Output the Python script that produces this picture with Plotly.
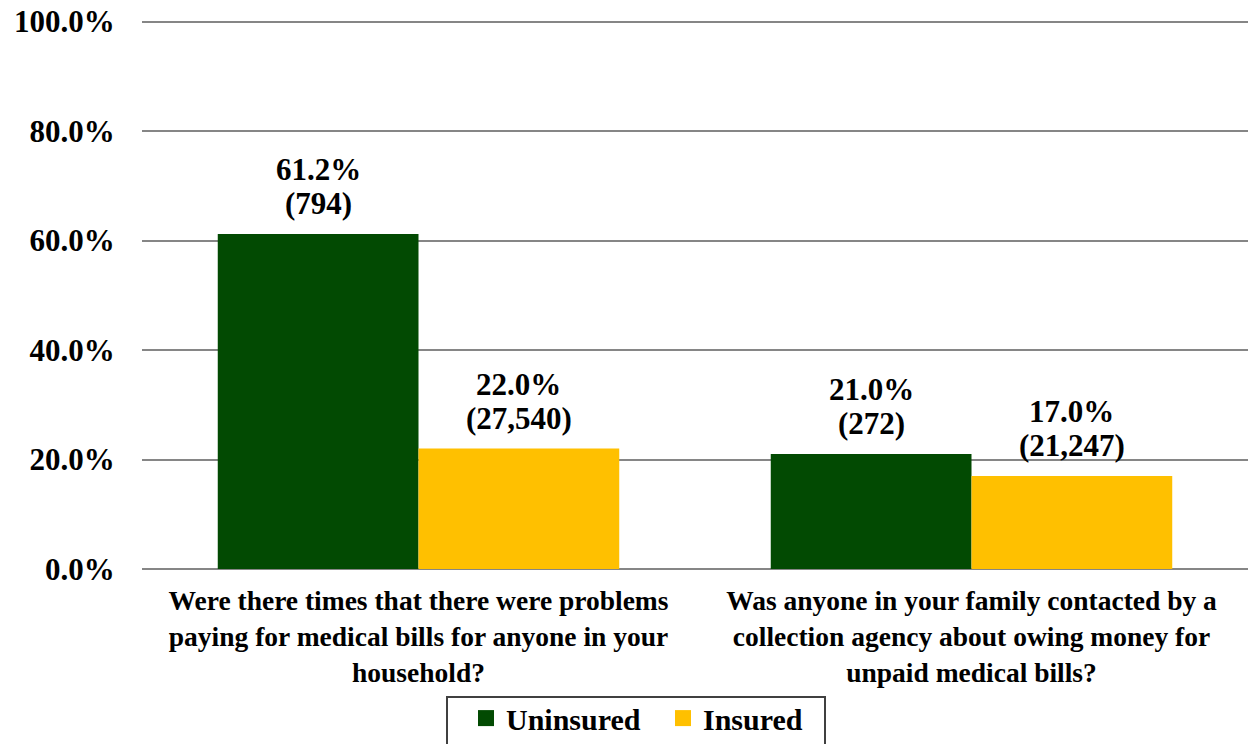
import plotly.graph_objects as go

categories = [
    "Were there times that there were problems<br>paying for medical bills for anyone in your<br>household?",
    "Was anyone in your family contacted by a<br>collection agency about owing money for<br>unpaid medical bills?",
]
series_names = ["Uninsured", "Insured"]
uninsured_pct = [0.612, 0.210]
uninsured_n = ["794", "272"]
insured_pct = [0.220, 0.170]
insured_n = ["27,540", "21,247"]
y_ticks = [0, 0.2, 0.4, 0.6, 0.8, 1.0]

FONT = "Liberation Serif"
GREEN = "#024A02"
GOLD = "#FFC000"
GRID = "#868686"

# figure geometry (page body margin is removed, so page pixels == figure pixels)
W, H = 1248, 744
ML, MR, MB = 142, 0, 175
Y_ZERO = H - MB          # pixel row of 0 %
PX_PER_UNIT = 547        # pixels from 0 % to 100 %
Y_TOP = 1.012            # a little headroom so the 100 % gridline is drawn
MT = Y_ZERO - PX_PER_UNIT * Y_TOP
BARGAP = 0.274
plot_w = W - ML - MR
plot_h = H - MT - MB
cat_w = plot_w / len(categories)
bar_w = cat_w * (1 - BARGAP) / 2

fig = go.Figure()
series = [
    (series_names[0], uninsured_pct, uninsured_n, GREEN, -1),
    (series_names[1], insured_pct, insured_n, GOLD, 1),
]
for name, vals, ns, color, side in series:
    fig.add_trace(go.Bar(
        name=name, x=categories, y=vals,
        marker=dict(color=color, line=dict(width=0)),
        showlegend=False, hoverinfo="x+y",
    ))
    # legend swatch
    fig.add_trace(go.Scatter(
        name=name, x=[None], y=[None], mode="markers",
        marker=dict(symbol="square", size=16, color=color),
        showlegend=True,
    ))
    for c, v, n in zip(categories, vals, ns):
        common = dict(
            x=c, y=v, xref="x", yref="y", showarrow=False,
            xshift=side * bar_w / 2, yanchor="bottom", xanchor="center",
            font=dict(family=FONT, size=31, color="black", weight="bold"),
        )
        fig.add_annotation(text=f"{v*100:.1f}%", yshift=45, **common)
        fig.add_annotation(text=f"({n})", yshift=11, **common)

# legend frame (bottom edge runs off the page as in the reference)
fig.add_shape(
    type="rect", xref="paper", yref="paper",
    x0=(447 - ML) / plot_w, x1=(825 - ML) / plot_w,
    y0=(Y_ZERO - 697) / plot_h, y1=(Y_ZERO - 780) / plot_h,
    line=dict(color="#404040", width=2), fillcolor="rgba(0,0,0,0)",
    layer="above",
)

fig.update_layout(
    width=W, height=H,
    margin=dict(l=ML, r=MR, t=MT, b=MB, autoexpand=False),
    paper_bgcolor="white", plot_bgcolor="white",
    barmode="group", bargap=BARGAP, bargroupgap=0,
    font=dict(family=FONT, color="black", weight="bold"),
    showlegend=True,
    legend=dict(
        orientation="h",
        x=(466 - ML) / plot_w, y=(Y_ZERO - 692) / plot_h,
        xanchor="left", yanchor="top",
        font=dict(family=FONT, size=30, color="black", weight="bold"),
        borderwidth=0, bgcolor="rgba(0,0,0,0)",
        itemsizing="trace", entrywidth=152, entrywidthmode="pixels",
    ),
    xaxis=dict(
        showgrid=False, showline=False, zeroline=False, automargin=False,
        tickfont=dict(family=FONT, size=27.5, color="black", weight="bold"),
        ticks="outside", ticklen=7, tickcolor="rgba(0,0,0,0)",
    ),
    yaxis=dict(
        range=[0, Y_TOP], tickvals=y_ticks, tickformat=".1%", automargin=False,
        showgrid=True, gridcolor=GRID, gridwidth=2,
        zeroline=True, zerolinecolor=GRID, zerolinewidth=2,
        showline=False, ticklabeloverflow="allow",
        tickfont=dict(family=FONT, size=31, color="black", weight="bold"),
        ticks="outside", ticklen=20, tickcolor="rgba(0,0,0,0)",
    ),
)

fig.write_html(
    "out.html",
    config={"displayModeBar": False},
    post_script="document.body.style.margin='0px';document.body.style.overflow='hidden';",
)
